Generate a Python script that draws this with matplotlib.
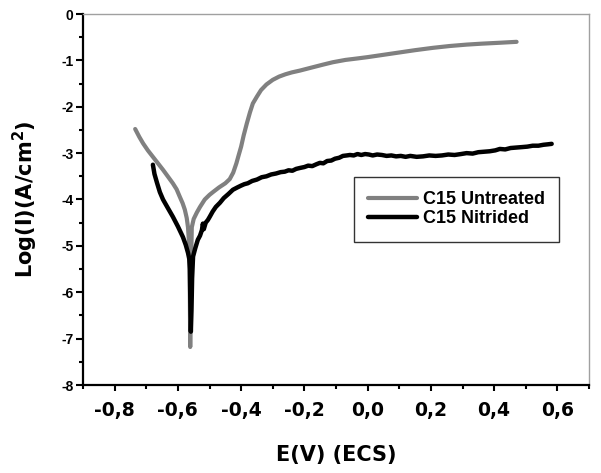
import matplotlib
matplotlib.use("Agg")
import matplotlib.pyplot as plt
from matplotlib.ticker import MultipleLocator, FixedLocator, FuncFormatter

# ---- data ----
untreated_E = [-0.735, -0.722, -0.710, -0.695, -0.679, -0.663, -0.647, -0.632, -0.616,
               -0.604, -0.594, -0.585, -0.578, -0.572, -0.568, -0.565, -0.563, -0.562,
               -0.561, -0.560, -0.558, -0.556, -0.550, -0.540, -0.530, -0.515, -0.500,
               -0.489, -0.470, -0.450, -0.436, -0.425, -0.415, -0.408, -0.400, -0.392,
               -0.382, -0.372, -0.363, -0.350, -0.337, -0.320, -0.300, -0.280, -0.260,
               -0.240, -0.214, -0.180, -0.140, -0.110, -0.070, -0.034, 0.000, 0.050,
               0.100, 0.150, 0.206, 0.260, 0.313, 0.360, 0.418, 0.471]
untreated_L = [-2.48, -2.65, -2.79, -2.94, -3.08, -3.22, -3.36, -3.50, -3.65,
               -3.78, -3.94, -4.08, -4.22, -4.40, -4.60, -4.90, -5.40, -6.20,
               -7.18, -6.40, -5.30, -4.60, -4.42, -4.28, -4.16, -4.00, -3.90,
               -3.84, -3.74, -3.65, -3.56, -3.42, -3.22, -3.05, -2.86, -2.62,
               -2.36, -2.12, -1.93, -1.78, -1.64, -1.52, -1.42, -1.35, -1.30,
               -1.26, -1.22, -1.16, -1.09, -1.04, -0.99, -0.96, -0.93, -0.88,
               -0.83, -0.78, -0.73, -0.69, -0.66, -0.64, -0.62, -0.60]

nitrided_E = [-0.679, -0.674, -0.666, -0.657, -0.647, -0.632, -0.616, -0.600, -0.584,
              -0.575, -0.568, -0.564, -0.562, -0.561, -0.560, -0.559, -0.557, -0.555,
              -0.552, -0.545, -0.537, -0.530, -0.524, -0.521, -0.518, -0.512, -0.505,
              -0.499, -0.490, -0.480, -0.467, -0.455, -0.440, -0.426, -0.412, -0.400,
              -0.390, -0.379, -0.365, -0.350, -0.335, -0.320, -0.305, -0.290, -0.275,
              -0.262, -0.250, -0.238, -0.226, -0.214, -0.200, -0.188, -0.175, -0.162,
              -0.151, -0.140, -0.128, -0.115, -0.103, -0.090, -0.078, -0.066, -0.056,
              -0.044, -0.032, -0.020, -0.008, 0.004, 0.016, 0.030, 0.045, 0.060,
              0.075, 0.090, 0.105, 0.120, 0.135, 0.155, 0.175, 0.195, 0.215,
              0.235, 0.255, 0.275, 0.295, 0.313, 0.332, 0.350, 0.368, 0.386,
              0.404, 0.418, 0.435, 0.452, 0.470, 0.488, 0.505, 0.522, 0.540,
              0.556, 0.570, 0.582]
nitrided_L = [-3.25, -3.45, -3.64, -3.84, -4.00, -4.18, -4.37, -4.58, -4.81,
              -4.98, -5.15, -5.28, -5.50, -6.00, -6.50, -6.85, -6.40, -5.70,
              -5.23, -5.05, -4.87, -4.78, -4.66, -4.52, -4.64, -4.50, -4.44,
              -4.37, -4.26, -4.16, -4.07, -3.97, -3.88, -3.79, -3.74, -3.70,
              -3.67, -3.65, -3.60, -3.57, -3.52, -3.50, -3.46, -3.44, -3.41,
              -3.40, -3.37, -3.38, -3.34, -3.32, -3.30, -3.27, -3.28, -3.24,
              -3.21, -3.22, -3.17, -3.16, -3.12, -3.10, -3.06, -3.05, -3.04,
              -3.05, -3.02, -3.04, -3.02, -3.03, -3.05, -3.03, -3.04, -3.06,
              -3.05, -3.07, -3.06, -3.08, -3.06, -3.08, -3.07, -3.05, -3.06,
              -3.05, -3.03, -3.04, -3.02, -3.00, -3.01, -2.98, -2.97, -2.96,
              -2.94, -2.91, -2.92, -2.89, -2.88, -2.87, -2.86, -2.84, -2.84,
              -2.82, -2.81, -2.80]

series_labels = ["C15 Untreated", "C15 Nitrided"]
x_ticks = [-0.8, -0.6, -0.4, -0.2, 0.0, 0.2, 0.4, 0.6]
y_ticks = [-8, -7, -6, -5, -4, -3, -2, -1, 0]
x_label = "E(V) (ECS)"
y_label = r"Log(I)(A/cm$^{\mathbf{2}}$)"

# ---- figure ----
fig = plt.figure(figsize=(6.01, 4.73), dpi=100)
ax = fig.add_axes([83/601, 1-385/473, (589-83)/601, (385-14)/473])

ax.plot(untreated_E, untreated_L, color="#808080", lw=3.0, label=series_labels[0],
        solid_joinstyle="round", solid_capstyle="round")
ax.plot(nitrided_E, nitrided_L, color="black", lw=3.2, label=series_labels[1],
        solid_joinstyle="round", solid_capstyle="round")

ax.set_xlim(-0.9, 0.7)
ax.set_ylim(-8, 0)

ax.xaxis.set_major_locator(FixedLocator(x_ticks))
ax.xaxis.set_minor_locator(MultipleLocator(0.1))
ax.yaxis.set_major_locator(FixedLocator(y_ticks))
ax.yaxis.set_minor_locator(MultipleLocator(0.5))
ax.xaxis.set_major_formatter(FuncFormatter(lambda v, p: f"{v:.1f}".replace(".", ",").replace("-0,0", "0,0")))
ax.yaxis.set_major_formatter(FuncFormatter(lambda v, p: f"{int(round(v))}"))

ax.tick_params(axis="both", which="both", direction="out", top=False, right=False, color="black")
ax.tick_params(axis="x", which="major", length=4.5, width=1.5, pad=7)
ax.tick_params(axis="x", which="minor", length=3.0, width=1.5)
ax.tick_params(axis="y", which="major", length=5, width=1.5, pad=2)
ax.tick_params(axis="y", which="minor", length=3.0, width=1.5)

for lab in ax.get_xticklabels():
    lab.set_fontfamily("DejaVu Sans")
    lab.set_fontweight("bold")
    lab.set_fontsize(13.5)
for lab in ax.get_yticklabels():
    lab.set_fontfamily("Liberation Sans")
    lab.set_fontweight("bold")
    lab.set_fontsize(10)

for s in ["left", "bottom"]:
    ax.spines[s].set_color("black")
    ax.spines[s].set_linewidth(1.6)
for s in ["top", "right"]:
    ax.spines[s].set_color("#a0a0a0")
    ax.spines[s].set_linewidth(1.0)

ax.set_xlabel(x_label, fontsize=15, fontweight="bold", family="DejaVu Sans")
ax.set_ylabel(y_label, fontsize=15, fontweight="bold", family="DejaVu Sans")
ax.xaxis.set_label_coords(0.5, -0.162)
ax.yaxis.set_label_coords(-0.085, 0.5)

leg = ax.legend(loc="upper left", bbox_to_anchor=((354-83)/506, (385-177)/371),
                borderaxespad=0, frameon=True, fancybox=False, shadow=False,
                prop={"family": "Liberation Sans", "weight": "bold", "size": 13},
                handlelength=2.7, handletextpad=0.3, borderpad=0.8, labelspacing=0.1)
leg.get_frame().set_edgecolor("black")
leg.get_frame().set_linewidth(1.0)

fig.savefig("out.png", dpi=100)
